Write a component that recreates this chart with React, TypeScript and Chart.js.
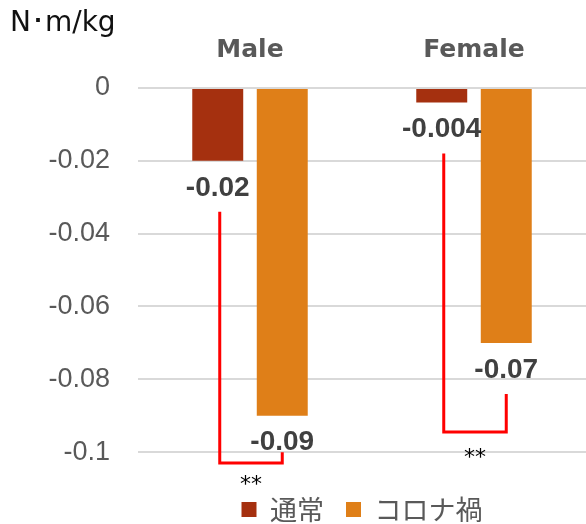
import { useEffect, useRef } from "react";
import { Chart, registerables, type Plugin } from "chart.js";

Chart.register(...registerables);

const categories = ["Male", "Female"];
const seriesLabels = ["通常", "コロナ禍"];
const normalValues = [-0.02, -0.004];
const covidValues = [-0.09, -0.07];
const seriesColors = ["#A5300F", "#DF7F18"];
const yTickValues = [0, -0.02, -0.04, -0.06, -0.08, -0.1];
const unitLabel = "N･m/kg";

// Significance brackets per category, in value units
const sigLeftTop = [-0.034, -0.018];
const sigRightTop = [-0.1, -0.084];
const sigBottom = [-0.103, -0.0945];
const sigMarkLevel = [-0.1071, -0.0998];
const sigMarks = ["**", "**"];

const valueLabels: Plugin<"bar"> = {
  id: "valueLabels",
  afterDatasetsDraw(chart) {
    const { ctx } = chart;
    ctx.save();
    ctx.font = "bold 28px 'Liberation Sans', Arial, sans-serif";
    ctx.fillStyle = "#404040";
    ctx.textAlign = "center";
    ctx.textBaseline = "middle";
    chart.data.datasets.forEach((ds, di) => {
      chart.getDatasetMeta(di).data.forEach((bar, i) => {
        const v = ds.data[i] as number;
        ctx.fillText(String(v), bar.x, bar.y + 27);
      });
    });
    ctx.restore();
  },
};

const sigBrackets: Plugin<"bar"> = {
  id: "sigBrackets",
  afterDraw(chart) {
    const { ctx } = chart;
    const y = chart.scales.y;
    const left = chart.getDatasetMeta(0).data;
    const right = chart.getDatasetMeta(1).data;
    ctx.save();
    categories.forEach((_, i) => {
      const xL = left[i].x + 2;
      const xR = right[i].x;
      const yB = y.getPixelForValue(sigBottom[i]);
      ctx.strokeStyle = "#FF0000";
      ctx.lineWidth = 3;
      ctx.beginPath();
      ctx.moveTo(xL, y.getPixelForValue(sigLeftTop[i]));
      ctx.lineTo(xL, yB);
      ctx.lineTo(xR, yB);
      ctx.lineTo(xR, y.getPixelForValue(sigRightTop[i]));
      ctx.stroke();
      ctx.fillStyle = "#000000";
      ctx.font = "22px 'DejaVu Sans', sans-serif";
      ctx.textAlign = "center";
      ctx.textBaseline = "alphabetic";
      ctx.fillText(sigMarks[i], (xL + xR) / 2, y.getPixelForValue(sigMarkLevel[i]) + 13);
    });
    ctx.restore();
  },
};

export default function App() {
  const ref = useRef<HTMLCanvasElement>(null);

  useEffect(() => {
    if (!ref.current) return;
    const chart = new Chart(ref.current, {
      type: "bar",
      data: {
        labels: categories,
        datasets: [
          {
            label: seriesLabels[0],
            data: normalValues,
            backgroundColor: seriesColors[0],
            borderWidth: 0,
            barPercentage: 0.79,
            categoryPercentage: 0.576,
          },
          {
            label: seriesLabels[1],
            data: covidValues,
            backgroundColor: seriesColors[1],
            borderWidth: 0,
            barPercentage: 0.79,
            categoryPercentage: 0.576,
          },
        ],
      },
      options: {
        animation: false,
        responsive: true,
        maintainAspectRatio: false,
        events: [],
        layout: { padding: { top: 0, left: 10, right: 0, bottom: -9 } },
        plugins: {
          title: {
            display: true,
            text: unitLabel,
            align: "start",
            color: "#111111",
            font: { family: "'DejaVu Sans', sans-serif", size: 28, weight: "normal" },
            padding: { top: 7, bottom: -28.6 },
          },
          legend: {
            position: "bottom",
            fullSize: false,
            labels: {
              boxWidth: 15,
              boxHeight: 15,
              padding: 22,
              color: "#595959",
              font: { family: "'Noto Sans CJK JP', sans-serif", size: 27 },
            },
          },
          tooltip: { enabled: false },
        },
        scales: {
          x: {
            position: "top",
            grid: { display: false, drawTicks: false },
            border: { display: false },
            ticks: {
              color: "#595959",
              padding: 23,
              font: { family: "'DejaVu Sans', sans-serif", size: 25, weight: "bold" },
            },
          },
          y: {
            min: -0.106,
            max: 0,
            grid: { color: "#d9d9d9", lineWidth: 2, drawTicks: false },
            border: { display: false },
            ticks: {
              color: "#595959",
              padding: 28,
              font: { family: "'Liberation Sans', Arial, sans-serif", size: 27 },
              callback: (v) => String(Number(Number(v).toFixed(3))),
            },
            afterBuildTicks: (s) => {
              s.ticks = yTickValues.map((value) => ({ value }));
            },
            afterFit: (s) => {
              s.width = 128;
            },
          },
        },
      },
      plugins: [valueLabels, sigBrackets],
    });
    return () => chart.destroy();
  }, []);

  return (
    <div style={{ position: "fixed", left: 0, top: 0, width: 586, height: 524 }}>
      <canvas ref={ref} />
    </div>
  );
}
